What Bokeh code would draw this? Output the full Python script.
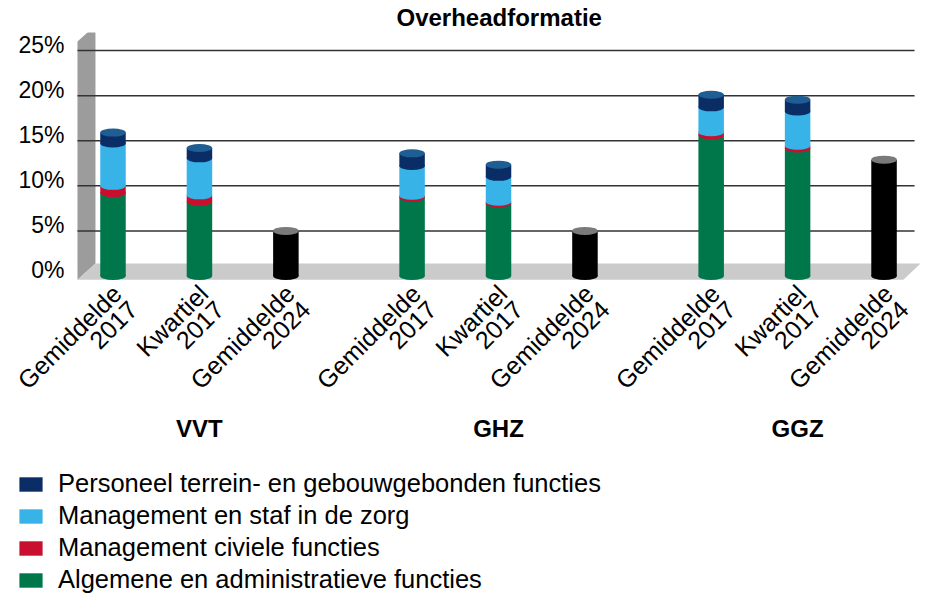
import math
from bokeh.plotting import figure
from bokeh.models import Range1d, ColumnDataSource, Legend, LegendItem
from bokeh.core.properties import value
from bokeh.embed import file_html
from bokeh.resources import INLINE

# ---------------- data ----------------
groups = ["VVT", "GHZ", "GGZ"]
bar_labels = ["Gemiddelde\n2017", "Kwartiel\n2017", "Gemiddelde\n2024"]
stack_labels = ["Gemiddelde\n2017", "Kwartiel\n2017"]
total_label = "Gemiddelde\n2024"

algemene = [9.2, 8.25, 8.7, 8.05, 15.6, 14.15]
civiele = [0.8, 0.7, 0.2, 0.2, 0.35, 0.3]
zorg = [4.7, 4.1, 3.3, 2.75, 2.75, 3.8]
personeel = [1.2, 1.15, 1.4, 1.35, 1.4, 1.3]
gemiddelde_2024 = [5.0, 5.0, 12.9]

series_names = ["Algemene en administratieve functies",
                "Management civiele functies",
                "Management en staf in de zorg",
                "Personeel terrein- en gebouwgebonden functies"]
series_values = [algemene, civiele, zorg, personeel]
series_colors = ["#00774A", "#C8102E", "#38B3E8", "#0B2D66"]
top_color = "#1F5E93"
total_color = "#000000"
total_top_color = "#7A7A7A"
y_ticks = [0, 5, 10, 15, 20, 25]
y_tick_labels = ["0%", "5%", "10%", "15%", "20%", "25%"]
grid_ticks = [5, 10, 15, 20, 25]

FONT = "Liberation Sans"

# ---------------- category positions ----------------
GP = 0.46  # gap between groups (in bar slots)


def pos(gi, bi):
    return gi * (len(bar_labels) + GP) + bi + 0.5


all_x = [pos(gi, bi) for gi in range(len(groups)) for bi in range(len(bar_labels))]
all_text = [b for g in groups for b in bar_labels]
stack_x = [pos(gi, bar_labels.index(b)) for gi in range(len(groups)) for b in stack_labels]
total_x = [pos(gi, bar_labels.index(total_label)) for gi in range(len(groups))]
group_x = [pos(gi, 1) for gi in range(len(groups))]

# ---------------- figure ----------------
PX_PER_UNIT = 9.02
FRAME_H = 562
FRAME_W = 914
X_START, X_END = -0.709, 9.865
Y1 = 27.0
Y0 = Y1 - FRAME_H / PX_PER_UNIT

p = figure(x_range=Range1d(X_START, X_END), y_range=Range1d(Y0, Y1),
           frame_width=FRAME_W, frame_height=FRAME_H,
           min_border_left=8, min_border_right=0, min_border_top=0,
           min_border_bottom=0, x_axis_location=None, y_axis_location=None,
           output_backend="svg", toolbar_location=None)
p.outline_line_color = None
p.background_fill_color = "white"
p.border_fill_color = "white"
p.xgrid.visible = False
p.ygrid.visible = False

# title
p.title.text = "Overheadformatie"
p.title.align = "left"
p.title.offset = 388
p.title.text_font = FONT
p.title.text_font_size = "24px"
p.title.text_font_style = "bold"
p.title.text_color = "black"
p.title.standoff = 3

# ---------------- 3D wall and floor ----------------
WALL_X = 0.089
D = 0.208
FLOOR_TOP = 1.4
FLOOR_BOT = -0.4
WALL_TOP = 26.0
GRID_END = 9.773
p.patch(x=[WALL_X, WALL_X, WALL_X + D, WALL_X + D],
        y=[FLOOR_BOT, WALL_TOP, WALL_TOP + 1.8, FLOOR_TOP],
        fill_color="#9C9C9C", line_color=None, level="image")
p.patch(x=[WALL_X, WALL_X + D, GRID_END + 0.07, GRID_END - 0.13],
        y=[FLOOR_BOT, FLOOR_TOP, FLOOR_TOP, FLOOR_BOT],
        fill_color="#CBCBCB", line_color=None, level="image")

# grid lines (start at the back wall)
p.segment(x0=[WALL_X] * len(grid_ticks), x1=[GRID_END] * len(grid_ticks),
          y0=grid_ticks, y1=grid_ticks, line_color="#333333",
          line_width=1.5, level="underlay")

# y tick labels
ytl_src = ColumnDataSource({"x": [WALL_X] * len(y_ticks), "y": y_ticks,
                            "text": y_tick_labels})
p.text(x="x", y="y", text="text", source=ytl_src,
       text_align="right", text_baseline="middle",
       text_font=value(FONT), text_font_size=value("23px"),
       text_color="black", x_offset=-13, y_offset=-6)

# ---------------- stacked cylinders ----------------
W = 0.295
EH = 8
data = {"x": stack_x}
cum = [0.0] * len(stack_x)
for i, vals in enumerate(series_values):
    data[f"b{i}"] = list(cum)
    cum = [c + v for c, v in zip(cum, vals)]
    data[f"t{i}"] = list(cum)
src = ColumnDataSource(data)

legend_renderers = []
for i, col in enumerate(series_colors):
    r = p.vbar(x="x", bottom=f"b{i}", top=f"t{i}", width=W, fill_color=col,
               line_color=None, source=src)
    p.ellipse(x="x", y=f"b{i}", width=W, height=EH, height_units="screen",
              fill_color=col, line_color=None, source=src)
    legend_renderers.append(r)
p.ellipse(x="x", y="t3", width=W, height=EH, height_units="screen",
          fill_color=top_color, line_color=None, source=src)

# ---------------- 2024 cylinders ----------------
src2 = ColumnDataSource({"x": total_x, "top": gemiddelde_2024,
                         "zero": [0.0] * len(groups)})
p.vbar(x="x", bottom="zero", top="top", width=W, fill_color=total_color,
       line_color=None, source=src2)
p.ellipse(x="x", y="zero", width=W, height=EH, height_units="screen",
          fill_color=total_color, line_color=None, source=src2)
p.ellipse(x="x", y="top", width=W, height=EH, height_units="screen",
          fill_color=total_top_color, line_color=None, source=src2)

# ---------------- category labels ----------------
lab_src = ColumnDataSource({"x": all_x, "y": [0.0] * len(all_x), "text": all_text})
p.text(x="x", y="y", text="text", source=lab_src, angle=math.pi / 4,
       text_align="right", text_baseline="middle",
       text_font=value(FONT), text_font_size=value("25px"),
       text_line_height=0.8, text_color="black",
       x_offset=12, y_offset=21)

grp_src = ColumnDataSource({"x": group_x, "y": [0.0] * len(groups), "text": groups})
p.text(x="x", y="y", text="text", source=grp_src,
       text_align="center", text_baseline="middle",
       text_font=value(FONT), text_font_size=value("24px"),
       text_font_style="bold", text_color="black",
       y_offset=152.5)

# ---------------- legend ----------------
items = [LegendItem(label=series_names[i], renderers=[legend_renderers[i]])
         for i in [3, 2, 1, 0]]
legend = Legend(items=items, location=(8, 0), orientation="vertical")
legend.label_text_font = FONT
legend.label_text_font_size = "25.5px"
legend.label_text_color = "black"
legend.glyph_width = 29
legend.glyph_height = 18
legend.label_height = 20
legend.label_standoff = 13
legend.spacing = 3
legend.padding = 0
legend.margin = 0
legend.border_line_color = None
legend.background_fill_alpha = 0
p.add_layout(legend, "center")

open("out.html", "w").write(file_html(p, INLINE))
